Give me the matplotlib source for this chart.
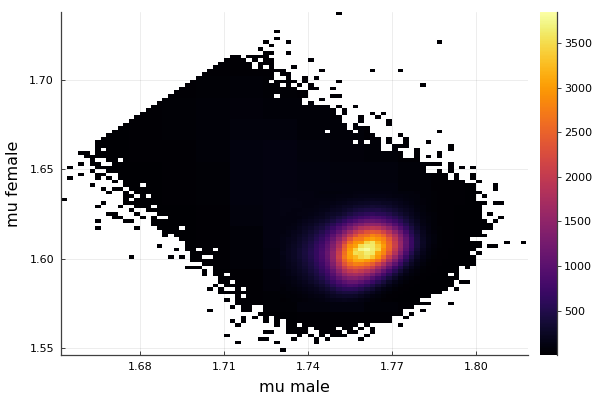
import numpy as np
import matplotlib
matplotlib.use("Agg")
import matplotlib.pyplot as plt

x_start, y_start, bin_size = 1.652, 1.546, 0.002
n_cols, n_rows = 83, 96
x_ticks = [1.68, 1.71, 1.74, 1.77, 1.80]
y_ticks = [1.55, 1.60, 1.65, 1.70]
cbar_ticks = [500, 1000, 1500, 2000, 2500, 3000, 3500]
count_min, count_max = 1, 3850

# occupied histogram cells per row (row: [(first col, last col), ...])
row_runs = {
95: [(49,49)], 90: [(38,38)], 88: [(38,38)], 87: [(36,36),(40,40),(67,67)], 86: [(37,37)],
85: [(35,35)], 84: [(36,37),(40,40)], 83: [(30,31),(33,36)],
82: [(29,32),(34,34),(36,37),(44,44)], 81: [(28,33),(35,37)],
80: [(27,33),(35,35),(37,37),(41,41)], 79: [(26,39),(46,46),(55,55),(60,60)],
78: [(25,37),(39,40)], 77: [(24,37),(40,40),(43,43),(45,45)],
76: [(23,36),(38,41),(43,43),(49,49)], 75: [(22,38),(40,40),(42,42),(44,44),(64,64)],
74: [(21,41),(44,45),(48,48)], 73: [(20,43)], 72: [(19,37),(39,43),(48,49)],
71: [(18,42),(46,46)], 70: [(17,42),(44,44)], 69: [(16,47),(49,49),(52,52)],
68: [(15,48),(50,50)], 67: [(14,48),(50,50),(55,55),(57,57)], 66: [(13,49),(53,53),(56,56)],
65: [(12,49),(53,53),(58,58)], 64: [(11,50),(52,52),(58,58)], 63: [(10,50),(52,54)],
62: [(9,46),(48,51),(53,54),(67,67)], 61: [(8,55),(60,60)], 60: [(7,56),(58,58),(61,61)],
59: [(6,51),(53,53),(55,56),(58,58),(61,61),(65,65)], 58: [(6,56),(59,61),(69,69)],
57: [(6,6),(8,56),(59,59),(63,63),(69,69)], 56: [(3,4),(6,60),(63,63),(67,67)],
55: [(4,60),(63,63),(65,65),(67,67)], 54: [(5,5),(8,9),(11,63)],
53: [(3,3),(5,6),(9,67),(69,69)], 52: [(1,1),(6,7),(8,64),(69,69),(71,71),(73,73)],
51: [(5,5),(8,64),(67,67),(69,69)], 50: [(3,3),(6,7),(10,68),(70,70),(73,73)],
49: [(1,1),(6,6),(8,8),(10,68),(70,70),(73,73)], 48: [(9,9),(11,71),(74,74)],
47: [(5,5),(11,13),(15,73),(77,77)], 46: [(7,7),(9,10),(12,73),(77,77)],
45: [(8,8),(11,11),(13,74)], 44: [(11,12),(14,14),(16,73),(75,75)],
43: [(0,0),(11,11),(13,73)], 42: [(7,7),(11,75),(77,78)],
41: [(6,6),(10,10),(13,15),(17,74)], 40: [(12,12),(15,74)], 39: [(8,9),(13,13),(17,74),(76,76)],
38: [(9,10),(14,14),(16,16),(19,74),(78,78)], 37: [(6,6),(11,12),(16,75),(77,77)],
36: [(16,76)], 35: [(6,6),(13,13),(17,20),(22,76)], 34: [(18,74)], 33: [(18,18),(20,75)],
32: [(21,72)], 31: [(22,74),(79,79),(82,82)], 30: [(17,17),(22,74),(76,77)],
29: [(20,20),(22,23),(25,26),(28,73)], 28: [(23,72),(74,74)],
27: [(12,12),(19,19),(21,21),(23,24),(27,73)], 26: [(23,24),(25,73)], 25: [(25,73)],
24: [(22,24),(27,70),(72,72)], 23: [(25,25),(27,70)], 22: [(25,25),(27,28),(30,68),(70,70)],
21: [(28,70)], 20: [(28,29),(31,69),(71,72)], 19: [(27,27),(29,69)],
18: [(26,26),(28,28),(31,31),(33,68),(70,70)], 17: [(28,67)], 16: [(31,31),(33,65)],
15: [(29,29),(31,63)], 14: [(31,65),(69,69)], 13: [(30,30),(32,33),(36,62)],
12: [(26,26),(32,33),(36,60),(64,64)], 11: [(35,60),(62,62)],
10: [(32,32),(34,34),(36,36),(38,58),(61,61)], 9: [(30,30),(32,32),(36,36),(38,38),(40,58)],
8: [(31,31),(38,38),(40,41),(43,52),(54,54),(60,60)],
7: [(40,43),(45,48),(50,51),(53,53),(55,55)], 6: [(36,37),(40,43),(46,49),(51,52),(55,55)],
5: [(29,29),(42,42),(44,44),(46,46),(48,50),(54,54)], 4: [(35,36),(41,41),(45,45),(47,47),(53,53)],
3: [(31,31),(38,38),(45,45)], 1: [(39,39)],
}

# counts / 10, six-by-six cell blocks, bottom row first
block_tens = [
[1,1,1,1,1,1,1,1,1,1,1,1,1,1],
[1,1,1,1,1,1,1,2,3,2,1,1,1,1],
[1,1,1,1,1,2,4,8,10,6,2,1,1,1],
[1,1,1,1,1,3,7,10,10,10,3,1,1,1],
[1,1,1,1,2,5,10,10,10,10,3,1,1,1],
[1,1,1,1,2,6,11,10,10,10,3,1,1,1],
[1,1,1,1,3,8,11,10,10,10,3,1,1,1],
[1,1,1,2,4,10,12,10,10,10,5,2,1,1],
[1,1,1,2,4,10,12,10,9,9,5,2,1,1],
[1,1,2,3,5,10,11,8,7,6,3,1,1,1],
[1,1,3,4,6,8,8,6,5,3,2,1,1,1],
[1,1,3,4,6,7,6,5,3,2,1,1,1,1],
[1,1,1,3,4,5,4,3,2,1,1,1,1,1],
[1,1,1,1,2,3,3,2,1,1,1,1,1,1],
[1,1,1,1,1,1,1,1,1,1,1,1,1,1],
[1,1,1,1,1,1,1,1,1,1,1,1,1,1],
]

# counts / 10 around the peak: columns 39.., top row (45) first
core_first_col, core_top_row = 39, 45
core_tens = [
[12,12,12,12,12,11,10,9,9,9,9,10,10,11,11,12,12,12,11,12,10,9,9,8,7,6,5,4,3,3,2],
[12,12,12,12,12,11,10,10,10,10,11,11,12,13,14,14,15,15,14,13,12,11,10,9,8,6,5,4,3,3,2],
[13,13,13,12,12,12,11,11,11,12,13,14,16,17,18,19,20,19,19,17,16,14,12,10,8,7,5,4,3,3,2],
[13,13,13,13,12,12,12,13,13,14,16,18,20,22,24,25,26,26,24,23,20,17,14,12,9,7,5,4,3,2,2],
[13,13,13,13,12,12,13,14,15,17,20,23,25,29,31,33,35,34,32,29,25,21,18,14,10,8,6,4,3,2,2],
[13,13,12,12,13,13,14,16,18,22,24,28,33,38,42,45,44,46,42,38,33,27,22,17,12,9,6,4,3,2,2],
[13,12,12,13,13,15,16,19,23,26,30,36,43,50,55,60,62,58,56,50,42,34,26,20,14,10,7,5,3,2,2],
[12,12,12,12,14,16,20,22,27,32,40,47,58,66,75,80,85,82,76,66,55,44,34,24,16,11,8,5,3,2,2],
[12,12,12,14,17,20,24,28,34,42,52,64,78,90,102,110,112,108,98,85,72,56,42,30,20,13,8,5,3,2,2],
[11,12,13,16,20,24,29,35,44,55,70,85,105,122,135,148,150,148,132,115,92,72,52,36,24,15,10,6,3,2,2],
[11,13,15,19,23,28,35,42,54,68,88,108,130,155,178,188,195,190,172,150,120,92,65,44,28,18,11,6,4,2,2],
[12,14,17,21,27,33,40,50,64,82,105,135,165,195,215,232,240,235,215,188,150,115,80,52,32,20,12,7,4,2,2],
[13,15,19,24,30,37,47,58,75,98,128,162,198,228,255,262,280,270,250,215,178,135,95,60,38,22,13,8,4,2,2],
[14,17,21,26,33,40,52,65,85,112,148,188,232,268,272,295,305,292,278,240,195,148,105,68,40,24,14,8,4,2,2],
[15,18,22,28,36,45,58,72,95,125,168,215,262,292,300,345,358,320,288,250,205,155,108,70,42,25,14,8,4,2,2],
[15,19,24,30,38,48,62,78,102,135,180,240,288,305,352,365,362,338,302,255,208,155,105,68,40,24,13,7,4,2,2],
[15,20,25,32,40,50,65,82,108,142,195,252,300,342,372,380,365,345,290,252,198,148,98,62,36,20,12,6,3,2,1],
[16,20,25,32,42,52,66,85,112,150,205,262,308,352,348,365,360,310,282,235,185,132,85,52,30,17,10,5,3,2,1],
[15,20,25,32,40,50,65,84,110,150,210,268,305,322,345,355,335,298,255,205,158,110,70,42,24,14,8,4,3,2,1],
[15,19,24,30,38,48,62,80,105,145,200,252,285,310,312,300,285,262,220,175,130,88,55,33,18,11,6,3,2,1,1],
[14,18,22,28,36,45,58,75,98,135,185,232,262,278,275,262,245,215,178,138,102,68,42,25,14,8,4,3,2,1,1],
[13,17,21,26,33,42,54,68,90,122,165,205,232,242,235,225,205,172,142,108,75,50,30,18,10,6,3,2,1,1,1],
[12,15,19,24,30,38,48,62,80,108,145,180,200,208,198,185,165,138,108,80,55,35,21,12,7,4,2,2,1,1,1],
[11,14,17,22,27,34,43,55,72,95,125,152,168,172,165,148,128,105,80,58,38,24,14,8,5,3,2,1,1,1,1],
[10,12,15,19,24,30,38,48,62,82,105,125,138,140,130,115,95,76,58,40,26,15,9,5,3,2,1,1,1,1,1],
[8,10,13,16,20,26,32,40,52,68,85,100,110,110,100,85,70,54,40,27,16,10,6,3,2,1,1,1,1,1,1],
[7,9,11,14,17,21,26,33,42,55,68,78,85,82,72,60,48,36,26,16,10,6,3,2,1,1,1,1,1,1,1],
[6,8,9,11,14,17,21,26,33,42,52,58,60,58,50,40,32,22,15,10,6,3,2,1,1,1,1,1,1,1,1],
[5,6,7,9,11,14,17,20,25,31,38,42,42,40,34,26,20,14,9,6,3,2,1,1,1,1,1,1,1,1,1],
[4,5,6,7,9,11,13,15,19,23,27,28,28,26,22,16,12,8,5,3,2,1,1,1,1,1,1,1,1,1,1],
[3,4,5,6,7,8,10,11,14,16,18,19,18,16,13,10,7,5,3,2,1,1,1,1,1,1,1,1,1,1,1],
]

counts = np.full((n_rows, n_cols), np.nan)
for row, runs in row_runs.items():
    for first, last in runs:
        for col in range(first, last + 1):
            counts[row, col] = block_tens[row // 6][col // 6] * 10
for k, values in enumerate(core_tens):
    row = core_top_row - k
    for m, v in enumerate(values):
        col = core_first_col + m
        if not np.isnan(counts[row, col]):
            counts[row, col] = v * 10

x_edges = x_start + bin_size * np.arange(n_cols + 1)
y_edges = y_start + bin_size * np.arange(n_rows + 1)

fig = plt.figure(figsize=(6, 4), dpi=100)
ax = fig.add_axes([61 / 600, 1 - 355 / 400, 467 / 600, 343 / 400])
mesh = ax.pcolormesh(x_edges, y_edges, np.ma.masked_invalid(counts), cmap="inferno",
                     vmin=count_min, vmax=count_max, zorder=2, linewidth=0, rasterized=True)
ax.set_xlim(1.6518, 1.8186)
ax.set_ylim(1.5461, 1.7378)
ax.set_xticks(x_ticks, [f"{t:.2f}" for t in x_ticks])
ax.set_yticks(y_ticks, [f"{t:.2f}" for t in y_ticks])
ax.grid(True, color="black", alpha=0.1, linewidth=0.5, zorder=1)
ax.set_axisbelow(True)
for side in ("top", "right"):
    ax.spines[side].set_visible(False)
for side in ("left", "bottom"):
    ax.spines[side].set_linewidth(0.9)
    ax.spines[side].set_color("#404040")
ax.tick_params(direction="in", length=3, width=0.6, labelsize=8, color="#222222", pad=5)
ax.set_xlabel("mu male", fontsize=11.5, labelpad=6)
ax.set_ylabel("mu female", fontsize=11.5, labelpad=6)

cax = fig.add_axes([540 / 600, 1 - 355 / 400, 17 / 600, 343 / 400])
cb = fig.colorbar(mesh, cax=cax)
cb.set_ticks(cbar_ticks)
cb.outline.set_visible(False)
cax.spines["right"].set_visible(True)
cax.spines["right"].set_linewidth(0.9)
cax.spines["right"].set_color("#404040")
cax.tick_params(direction="out", length=3, width=0.6, labelsize=8, color="#222222", pad=2)

fig.savefig("out.png", dpi=100)
